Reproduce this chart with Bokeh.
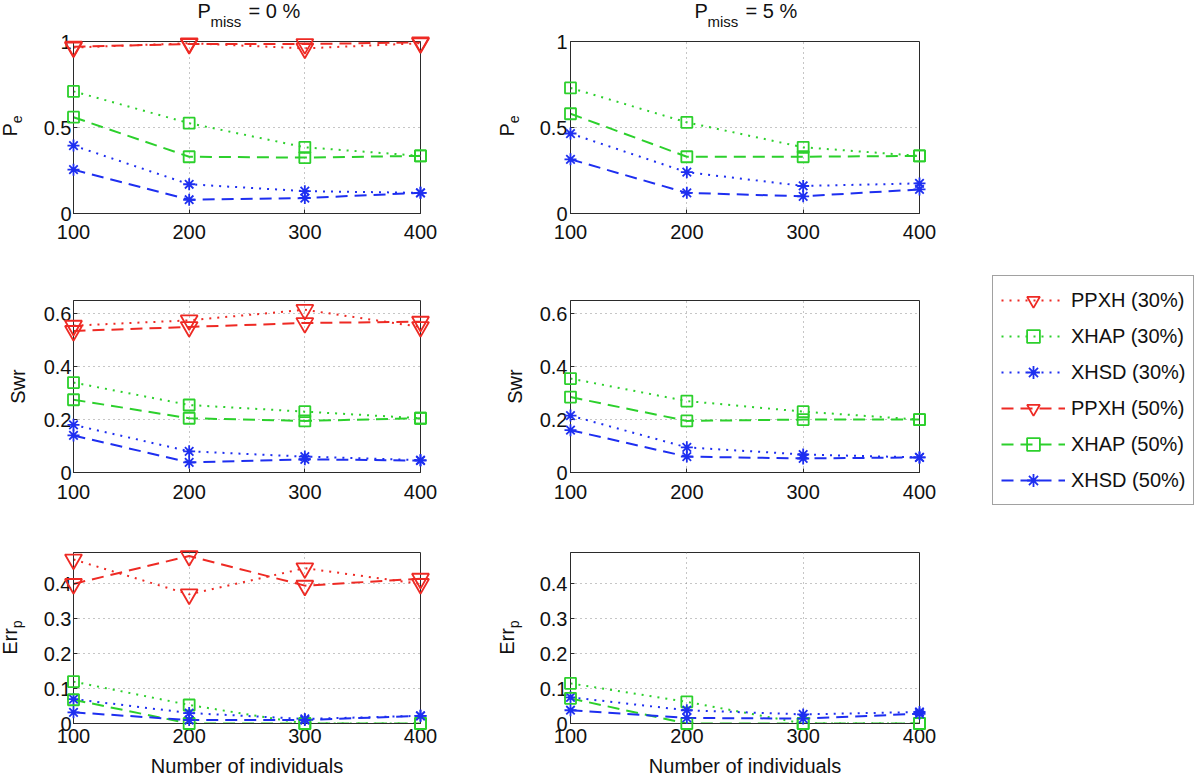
import math
import numpy as np
from bokeh.plotting import figure
from bokeh.layouts import column, row
from bokeh.models import (Range1d, FixedTicker, Legend, LegendItem,
                          ColumnDataSource, CustomJSTickFormatter)
from bokeh.core.properties import value
from bokeh.embed import file_html
from bokeh.resources import INLINE

FONT = "Liberation Sans"

# ---------------- data ----------------
n_individuals = [100, 200, 300, 400]
x_ticks = [100, 200, 300, 400]
pe_ticks = [0, 0.5, 1]
swr_ticks = [0, 0.2, 0.4, 0.6]
err_ticks = [0, 0.1, 0.2, 0.3, 0.4]

series_names = ["PPXH (30%)", "XHAP (30%)", "XHSD (30%)",
                "PPXH (50%)", "XHAP (50%)", "XHSD (50%)"]

# P_e, P_miss = 0 %
pe_ppxh30_m0 = [0.965, 0.99, 0.96, 0.99]
pe_xhap30_m0 = [0.71, 0.525, 0.385, 0.335]
pe_xhsd30_m0 = [0.395, 0.17, 0.13, 0.12]
pe_ppxh50_m0 = [0.97, 0.985, 0.985, 0.995]
pe_xhap50_m0 = [0.56, 0.33, 0.325, 0.335]
pe_xhsd50_m0 = [0.255, 0.08, 0.09, 0.12]
# P_e, P_miss = 5 %
pe_xhap30_m5 = [0.73, 0.53, 0.385, 0.335]
pe_xhsd30_m5 = [0.465, 0.24, 0.16, 0.175]
pe_xhap50_m5 = [0.58, 0.33, 0.33, 0.335]
pe_xhsd50_m5 = [0.315, 0.12, 0.10, 0.14]

# Swr, P_miss = 0 %
swr_ppxh30_m0 = [0.555, 0.575, 0.615, 0.55]
swr_xhap30_m0 = [0.34, 0.255, 0.23, 0.205]
swr_xhsd30_m0 = [0.18, 0.08, 0.06, 0.047]
swr_ppxh50_m0 = [0.535, 0.55, 0.565, 0.57]
swr_xhap50_m0 = [0.275, 0.205, 0.195, 0.205]
swr_xhsd50_m0 = [0.14, 0.038, 0.05, 0.045]
# Swr, P_miss = 5 %
swr_xhap30_m5 = [0.355, 0.27, 0.23, 0.2]
swr_xhsd30_m5 = [0.215, 0.095, 0.068, 0.057]
swr_xhap50_m5 = [0.285, 0.195, 0.2, 0.2]
swr_xhsd50_m5 = [0.16, 0.06, 0.053, 0.057]

# Err_p, P_miss = 0 %
err_ppxh30_m0 = [0.47, 0.37, 0.445, 0.40]
err_xhap30_m0 = [0.12, 0.053, 0.0, 0.0]
err_xhsd30_m0 = [0.07, 0.03, 0.013, 0.022]
err_ppxh50_m0 = [0.40, 0.48, 0.395, 0.415]
err_xhap50_m0 = [0.068, 0.0, 0.0, 0.0]
err_xhsd50_m0 = [0.032, 0.01, 0.01, 0.022]
# Err_p, P_miss = 5 %
err_xhap30_m5 = [0.115, 0.062, 0.0, 0.0]
err_xhsd30_m5 = [0.075, 0.038, 0.026, 0.033]
err_xhap50_m5 = [0.072, 0.0, 0.0, 0.0]
err_xhsd50_m5 = [0.038, 0.016, 0.014, 0.028]

panel_data = [
    [
        {"PPXH (30%)": pe_ppxh30_m0, "XHAP (30%)": pe_xhap30_m0, "XHSD (30%)": pe_xhsd30_m0,
         "PPXH (50%)": pe_ppxh50_m0, "XHAP (50%)": pe_xhap50_m0, "XHSD (50%)": pe_xhsd50_m0},
        {"XHAP (30%)": pe_xhap30_m5, "XHSD (30%)": pe_xhsd30_m5,
         "XHAP (50%)": pe_xhap50_m5, "XHSD (50%)": pe_xhsd50_m5},
    ],
    [
        {"PPXH (30%)": swr_ppxh30_m0, "XHAP (30%)": swr_xhap30_m0, "XHSD (30%)": swr_xhsd30_m0,
         "PPXH (50%)": swr_ppxh50_m0, "XHAP (50%)": swr_xhap50_m0, "XHSD (50%)": swr_xhsd50_m0},
        {"XHAP (30%)": swr_xhap30_m5, "XHSD (30%)": swr_xhsd30_m5,
         "XHAP (50%)": swr_xhap50_m5, "XHSD (50%)": swr_xhsd50_m5},
    ],
    [
        {"PPXH (30%)": err_ppxh30_m0, "XHAP (30%)": err_xhap30_m0, "XHSD (30%)": err_xhsd30_m0,
         "PPXH (50%)": err_ppxh50_m0, "XHAP (50%)": err_xhap50_m0, "XHSD (50%)": err_xhsd50_m0},
        {"XHAP (30%)": err_xhap30_m5, "XHSD (30%)": err_xhsd30_m5,
         "XHAP (50%)": err_xhap50_m5, "XHSD (50%)": err_xhsd50_m5},
    ],
]

row_ymax = [1.0, 0.65, 0.49]
row_ticks = [pe_ticks, swr_ticks, err_ticks]
row_ylabel = [("P", "e"), ("Swr", ""), ("Err", "p")]
col_titles = ["= 0 %", "= 5 %"]
xlabel_text = "Number of individuals"

# ---------------- styles ----------------
RED, GREEN, BLUE = "#ee2a24", "#2cd02c", "#1e2ff0"
DOT, DASH = "2 6", "12 7"
styles = {
    "PPXH (30%)": (RED, "inverted_triangle", DOT, 17),
    "XHAP (30%)": (GREEN, "square", DOT, 11),
    "XHSD (30%)": (BLUE, "asterisk", DOT, 12),
    "PPXH (50%)": (RED, "inverted_triangle", DASH, 17),
    "XHAP (50%)": (GREEN, "square", DASH, 11),
    "XHSD (50%)": (BLUE, "asterisk", DASH, 12),
}
AX = "#2b2b2b"
TXT = "#111111"

FW = [347, 349]
FH = [172, 172, 171]
BL = [73, 75]
BR = [75, 280]
BT = [41, 45, 42]
BB = [42, 38, 53]
XSTAND = [11, 12, 5]

tick_fmt = CustomJSTickFormatter(code="return tick.toString();")


def add_text(p, x, y, s, dx, dy, size, align, angle=0.0):
    p.text(x=[x], y=[y], text=[s], x_offset=dx, y_offset=dy, angle=angle,
           text_align=align, text_baseline="alphabetic",
           text_font=value(FONT), text_font_size=value(f"{size}px"),
           text_color=TXT, level="overlay")


def make_fig(r, c):
    x0, x1 = n_individuals[0], n_individuals[-1]
    p = figure(frame_width=FW[c], frame_height=FH[r],
               x_range=Range1d(x0, x1), y_range=Range1d(0, row_ymax[r]),
               output_backend="svg", toolbar_location=None,
               min_border_left=BL[c], min_border_right=BR[c],
               min_border_top=BT[r], min_border_bottom=BB[r])
    p.background_fill_color = "white"
    p.border_fill_color = "white"
    p.outline_line_color = AX
    p.outline_line_width = 1

    for ax, ticks in ((p.xaxis[0], x_ticks), (p.yaxis[0], row_ticks[r])):
        ax.ticker = FixedTicker(ticks=ticks)
        ax.major_label_text_font = FONT
        ax.major_label_text_font_size = "20px"
        ax.major_label_text_color = TXT
        ax.axis_line_color = AX
        ax.major_tick_line_color = AX
        ax.major_tick_in = 4
        ax.major_tick_out = 0
        ax.minor_tick_line_color = None
    p.xaxis.major_label_standoff = XSTAND[r]
    p.yaxis.major_label_standoff = 2 if c == 0 else 3
    p.yaxis.formatter = tick_fmt

    p.xgrid.ticker = FixedTicker(ticks=x_ticks)
    p.ygrid.ticker = FixedTicker(ticks=row_ticks[r])
    for g in (p.xgrid[0], p.ygrid[0]):
        g.grid_line_color = "#8c8c8c"
        g.grid_line_dash = "1 4"
        g.grid_line_width = 1

    data = panel_data[r][c]
    for name in series_names:
        if name not in data:
            continue
        color, marker, dash, size = styles[name]
        src = ColumnDataSource(dict(x=n_individuals, y=data[name]))
        p.line("x", "y", source=src, line_color=color, line_dash=dash, line_width=2)
        p.scatter("x", "y", source=src, marker=marker, size=size,
                  line_color=color, fill_color=None, line_width=1.8, level="overlay")

    ymax = row_ymax[r]
    h = FH[r]
    # y label (with optional subscript), anchored at the frame's bottom-left corner
    main, sub = row_ylabel[r]
    if sub:
        main_w = {"P": 13.3, "Err": 24.4}[main]
        sub_w = 7.8
        junction = h / 2 - (main_w + sub_w) / 2 + main_w + 1.5
        add_text(p, x0, 0, main, -64, -junction, 20, "right", math.pi / 2)
        add_text(p, x0, 0, sub, -57, -junction, 14, "left", math.pi / 2)
    else:
        add_text(p, x0, 0, main, -56, -h / 2, 20, "center", math.pi / 2)

    # column titles, anchored at the frame's top-left corner
    if r == 0:
        add_text(p, x0, ymax, "P", 124, -31, 20, "left")
        add_text(p, x0, ymax, "miss", 137, -20, 15, "left")
        add_text(p, x0, ymax, col_titles[c], 175, -31, 20, "left")

    # x label
    if r == 2:
        add_text(p, (x0 + x1) / 2, 0, xlabel_text, 0, 42, 20, "center")

    # legend (right side panel of the middle-right plot)
    if r == 1 and c == 1:
        items = []
        for name in series_names:
            color, marker, dash, size = styles[name]
            blank = ColumnDataSource(dict(x=np.array([np.nan]), y=np.array([np.nan])))
            lr = p.line("x", "y", source=blank, line_color=color, line_dash=dash, line_width=2)
            sr = p.scatter("x", "y", source=blank, marker=marker, size=size,
                           line_color=color, fill_color=None, line_width=1.8)
            items.append(LegendItem(label=name, renderers=[lr, sr]))
        legend = Legend(items=items, location=(73, -33),
                        glyph_width=64, glyph_height=32, label_height=32,
                        spacing=4, padding=8, label_standoff=6,
                        label_text_font=FONT, label_text_font_size="20px",
                        label_text_color=TXT,
                        border_line_color="#444444", border_line_width=1,
                        background_fill_color="white", background_fill_alpha=1)
        p.add_layout(legend, "right")
    return p


figs = [[make_fig(r, c) for c in range(2)] for r in range(3)]
layout = column(*[row(*figs[r]) for r in range(3)])

open("out.html", "w").write(file_html(layout, INLINE))
